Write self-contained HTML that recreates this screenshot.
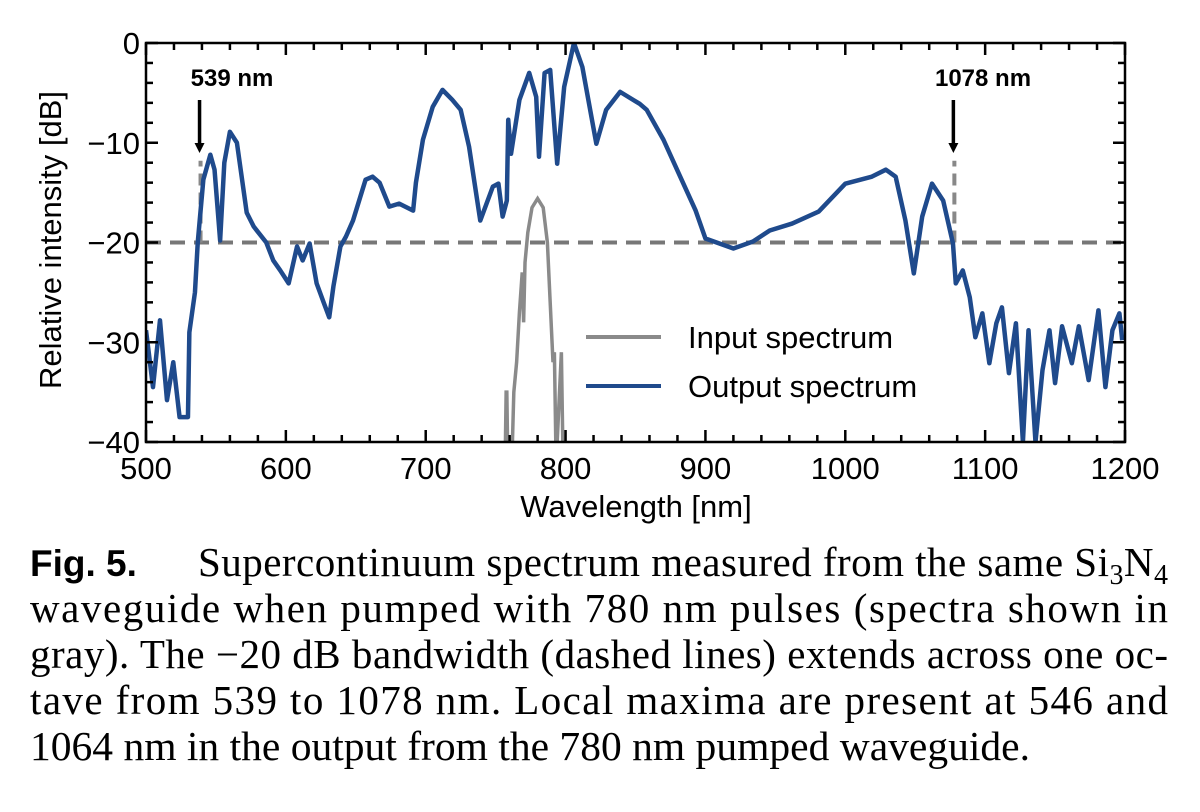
<!DOCTYPE html>
<html><head><meta charset="utf-8"><style>
html,body{margin:0;padding:0;background:#fff}
svg{display:block}
</style></head><body>
<svg id="chart" width="1200" height="812" viewBox="0 0 1200 812" xmlns="http://www.w3.org/2000/svg">
<rect width="1200" height="812" fill="#fff"/>
<g id="plot"></g>
<g>
<text x="30" y="576" font-family="Liberation Sans, sans-serif" font-weight="bold" font-size="37">Fig. 5.</text>
<text x="198" y="576" font-family="Liberation Serif, serif" font-size="41" textLength="970" lengthAdjust="spacing">Supercontinuum spectrum measured from the same Si<tspan font-size="28" dy="8">3</tspan><tspan dy="-8">N</tspan><tspan font-size="28" dy="8">4</tspan></text>
<text x="30" y="622" font-family="Liberation Serif, serif" font-size="41" textLength="1138" lengthAdjust="spacing">waveguide when pumped with 780 nm pulses (spectra shown in</text>
<text x="30" y="668" font-family="Liberation Serif, serif" font-size="41" textLength="1138" lengthAdjust="spacing">gray). The −20 dB bandwidth (dashed lines) extends across one oc-</text>
<text x="30" y="714" font-family="Liberation Serif, serif" font-size="41" textLength="1138" lengthAdjust="spacing">tave from 539 to 1078 nm. Local maxima are present at 546 and</text>
<text x="30" y="760" font-family="Liberation Serif, serif" font-size="41" textLength="1000" lengthAdjust="spacingAndGlyphs">1064 nm in the output from the 780 nm pumped waveguide.</text>
</g>
</svg>
<script>
const outWl=[500,505,510,515,519.5,524,530,531,535,537,541,546,549,553,556,560,565,572,577,586,591,596,602,608,612,617,622,627,631,634,639,643,648,657,662,667,674,681,691,693,698,705,712,719,725,731,739,748,752,755,758,759,761,767,774,779,781,785,789,794,799,806,812,822,829,839,853,858,870,881,893,900,910,920,934,946,962,981,1000,1019,1029,1036,1043,1049,1055,1062,1070,1077,1079,1084,1089,1093,1098,1103,1108,1112,1117,1122,1127,1131,1136,1141,1146,1150,1155,1162,1167,1174,1181,1186,1191,1196,1198];
const outDb=[-28.8,-34.5,-27.8,-35.8,-32,-37.5,-37.5,-29,-25,-20,-13.7,-11.2,-12.7,-19.8,-12,-8.9,-10,-17,-18.4,-20,-21.8,-22.8,-24.1,-20.4,-21.8,-20.1,-24.1,-26,-27.5,-24.4,-20.4,-19.4,-17.8,-13.7,-13.4,-14,-16.4,-16.1,-16.8,-14,-9.7,-6.4,-4.7,-5.7,-6.7,-10.4,-17.8,-14.4,-14.1,-17.4,-15.8,-7.7,-11.1,-5.7,-3,-5.4,-11.4,-3,-2.7,-12.1,-4.4,0,-2.4,-10.1,-6.7,-4.9,-6.1,-6.7,-9.7,-13.1,-16.8,-19.6,-20.1,-20.6,-19.9,-18.8,-18.1,-16.9,-14.1,-13.4,-12.7,-13.4,-17.8,-23.1,-17.4,-14.1,-15.8,-20.1,-24.1,-22.8,-25.5,-29.5,-27.1,-32.1,-28.1,-26.5,-33.1,-28.1,-40,-28.8,-40,-32.8,-28.8,-34.1,-28.4,-32.1,-28.4,-33.8,-26.8,-34.5,-28.8,-27.1,-29.8];
const inWl=[757,757.5,758,758.5,762,763,765,767,769,770,771,773,776,780,784,787,789,791,792,793,794,797,798];
const inDb=[-40,-35,-35,-40,-40,-35,-32,-27,-23,-28,-22,-19,-16.5,-15.6,-16.5,-20,-26,-32,-31,-40,-40,-31,-40];
const xTicks=[500,600,700,800,900,1000,1100,1200];
const yTicks=[0,-10,-20,-30,-40];
const threshold=-20, bwLow=539, bwHigh=1078;

const NS="http://www.w3.org/2000/svg";
const X0=146,X1=1125,Y0=43,Y1=442;
const xs=w=>X0+(w-500)/700*(X1-X0);
const ys=d=>Y0+(0-d)/40*(Y1-Y0);
const plot=document.getElementById('plot');
function mk(tag,attrs,parent){const e=document.createElementNS(NS,tag);for(const k in attrs)e.setAttribute(k,attrs[k]);(parent||plot).appendChild(e);return e;}

const defs=mk('defs',{});
const cp=mk('clipPath',{id:'clip'},defs);mk('rect',{x:X0,y:Y0,width:X1-X0,height:Y1-Y0},cp);

const th=mk('line',{x1:X0,x2:X1,y1:ys(threshold),y2:ys(threshold),stroke:'#777','stroke-width':4,'stroke-dasharray':'15 9'});


[bwLow,bwHigh].forEach((w,i)=>{
  const v=mk('line',{x1:xs(w),x2:xs(w),y1:ys(threshold),y2:ys(-11.8),stroke:'#888','stroke-width':4,'stroke-dasharray':'12 7'});
  
  
});

const inP=mk('polyline',{points:inWl.map((w,i)=>xs(w)+','+ys(inDb[i])).join(' '),fill:'none',stroke:'#8a8a8a','stroke-width':3.5,'clip-path':'url(#clip)'});


const outP=mk('polyline',{points:outWl.map((w,i)=>xs(w)+','+ys(outDb[i])).join(' '),fill:'none',stroke:'#1f4a8c','stroke-width':4.5,'stroke-linejoin':'round','clip-path':'url(#clip)'});



const fr=mk('rect',{x:X0,y:Y0,width:X1-X0,height:Y1-Y0,fill:'none',stroke:'#000','stroke-width':2.5});



for(let w=500;w<=1200;w+=20){
  const major=(w%100===0),L=major?12:7;
  mk('line',{x1:xs(w),x2:xs(w),y1:Y1,y2:Y1-L,stroke:'#000','stroke-width':2.5});
  mk('line',{x1:xs(w),x2:xs(w),y1:Y0,y2:Y0+L,stroke:'#000','stroke-width':2.5});
}
for(let d=0;d>=-40;d-=2){
  const major=(d%10===0),L=major?12:7;
  mk('line',{x1:X0,x2:X0+L,y1:ys(d),y2:ys(d),stroke:'#000','stroke-width':2.5});
  mk('line',{x1:X1,x2:X1-L,y1:ys(d),y2:ys(d),stroke:'#000','stroke-width':2.5});
}
xTicks.forEach(w=>{
  const t=mk('text',{x:xs(w),y:479,'text-anchor':'middle','font-family':'Liberation Sans, sans-serif','font-size':31});
  t.textContent=w;
  
  
});
yTicks.forEach(d=>{
  const t=mk('text',{x:X0-6,y:ys(d)+11,'text-anchor':'end','font-family':'Liberation Sans, sans-serif','font-size':31});
  t.textContent=d===0?'0':'−'+Math.abs(d);
  
  
});
const xt=mk('text',{x:636,y:517,'text-anchor':'middle','font-family':'Liberation Sans, sans-serif','font-size':31});
xt.textContent='Wavelength [nm]';


const yt=mk('text',{x:0,y:0,'text-anchor':'middle','font-family':'Liberation Sans, sans-serif','font-size':31,transform:'translate(61,240) rotate(-90)'});
yt.textContent='Relative intensity [dB]';



[[bwLow,'539 nm',232],[bwHigh,'1078 nm',983]].forEach(([w,lab,cx],i)=>{
  const t=mk('text',{x:cx,y:86,'text-anchor':'middle','font-family':'Liberation Sans, sans-serif','font-size':24,'font-weight':'bold'});
  t.textContent=lab;
  
  
  const x=xs(w)-1;
  const a=mk('line',{x1:x,x2:x,y1:100,y2:146,stroke:'#000','stroke-width':3.5});
  
  
  mk('polygon',{points:`${x-5},143 ${x+5},143 ${x},153`,fill:'#000'});
});

const lg=mk('g',{});


[['Input spectrum','#8a8a8a',337,'legend-entry-input'],['Output spectrum','#1f4a8c',386,'legend-entry-output']].forEach(([lab,c,y,n])=>{
  const g=mk('g',{},lg);
  
  
  mk('line',{x1:586,x2:661,y1:y,y2:y,stroke:c,'stroke-width':4},g);
  const t=mk('text',{x:688,y:y+11,'font-family':'Liberation Sans, sans-serif','font-size':31},g);
  t.textContent=lab;
});
</script>
</body></html>
